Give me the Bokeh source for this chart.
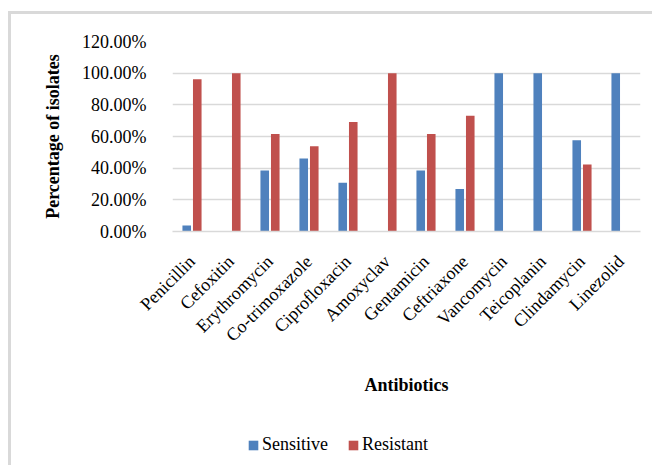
import math
from bokeh.plotting import figure
from bokeh.layouts import column
from bokeh.models import ColumnDataSource, Legend, LegendItem, PrintfTickFormatter, FixedTicker, Range1d
from bokeh.transform import dodge
from bokeh.embed import file_html
from bokeh.resources import INLINE

antibiotics = ["Penicillin", "Cefoxitin", "Erythromycin", "Co-trimoxazole", "Ciprofloxacin",
               "Amoxyclav", "Gentamicin", "Ceftriaxone", "Vancomycin", "Teicoplanin",
               "Clindamycin", "Linezolid"]
sensitive = [3.85, 0, 38.46, 46.15, 30.77, 0, 38.46, 26.92, 100, 100, 57.69, 100]
resistant = [96.15, 100, 61.54, 53.85, 69.23, 100, 61.54, 73.08, 0, 0, 42.31, 0]
series_names = ["Sensitive", "Resistant"]
y_ticks = [0, 20, 40, 60, 80, 100, 120]

src = ColumnDataSource(dict(ab=antibiotics, s=sensitive, r=resistant))

FONT = "Liberation Serif"
BLUE = "#4F81BD"
RED = "#C0504D"

p = figure(x_range=antibiotics, y_range=Range1d(0, 120), width=641, height=406,
           output_backend="svg", toolbar_location=None,
           min_border_left=161, min_border_top=27, min_border_right=12, min_border_bottom=189)

p.vbar(x=dodge("ab", -0.135, range=p.x_range), top="s", width=0.22, source=src,
       fill_color=BLUE, line_color=None)
p.vbar(x=dodge("ab", 0.135, range=p.x_range), top="r", width=0.22, source=src,
       fill_color=RED, line_color=None)

p.outline_line_color = None
p.xgrid.grid_line_color = None
p.ygrid.grid_line_color = "#d9d9d9"
p.ygrid.grid_line_width = 1.5
p.x_range.range_padding = 0

p.yaxis.ticker = FixedTicker(ticks=y_ticks)
p.yaxis.formatter = PrintfTickFormatter(format="%.2f%%")
p.yaxis.axis_line_color = None
p.yaxis.major_tick_line_color = None
p.yaxis.minor_tick_line_color = None
p.yaxis.major_label_text_font = FONT
p.yaxis.major_label_text_font_size = "18px"
p.yaxis.major_label_text_color = "#000000"
p.yaxis.major_label_standoff = 20
p.yaxis.axis_label = "Percentage of isolates"
p.yaxis.axis_label_text_font = FONT
p.yaxis.axis_label_text_font_size = "18px"
p.yaxis.axis_label_text_font_style = "bold"
p.yaxis.axis_label_text_color = "#000000"
p.yaxis.axis_label_standoff = 16

p.xaxis.axis_line_color = "#d9d9d9"
p.xaxis.axis_line_width = 1.5
p.xaxis.major_tick_line_color = None
p.xaxis.minor_tick_line_color = None
p.xaxis.major_label_orientation = math.pi / 4
p.xaxis.major_label_text_font = FONT
p.xaxis.major_label_text_font_size = "18px"
p.xaxis.major_label_text_color = "#000000"
p.xaxis.major_label_standoff = 21
p.xaxis.axis_label = "Antibiotics"
p.xaxis.axis_label_text_font = FONT
p.xaxis.axis_label_text_font_size = "18px"
p.xaxis.axis_label_text_font_style = "bold"
p.xaxis.axis_label_text_color = "#000000"
p.xaxis.axis_label_standoff = 19

# legend strip underneath the chart (zero-size swatches only feed the legend)
lf = figure(width=641, height=45, x_range=Range1d(0, 1), y_range=Range1d(0, 1),
            output_backend="svg", toolbar_location=None,
            min_border=0, outline_line_color=None)
lf.axis.visible = False
lf.grid.visible = False
g1 = lf.vbar(x=[0], top=[0], width=0, fill_color=BLUE, line_color=None)
g2 = lf.vbar(x=[0], top=[0], width=0, fill_color=RED, line_color=None)
legend = Legend(items=[LegendItem(label=series_names[0], renderers=[g1]),
                       LegendItem(label=series_names[1], renderers=[g2])],
                location=(75, 10), orientation="horizontal",
                border_line_color=None, background_fill_alpha=0,
                glyph_width=12, glyph_height=12, label_standoff=3, spacing=19,
                label_text_font=FONT, label_text_font_size="18px",
                label_text_color="#000000", padding=5, margin=0)
lf.add_layout(legend, "center")

layout = column(p, lf, spacing=0,
                styles={"border-left": "3px solid #d9d9d9", "border-top": "3px solid #d9d9d9",
                        "margin-left": "8px", "margin-top": "11px"})
open("out.html", "w").write(file_html(layout, INLINE))
